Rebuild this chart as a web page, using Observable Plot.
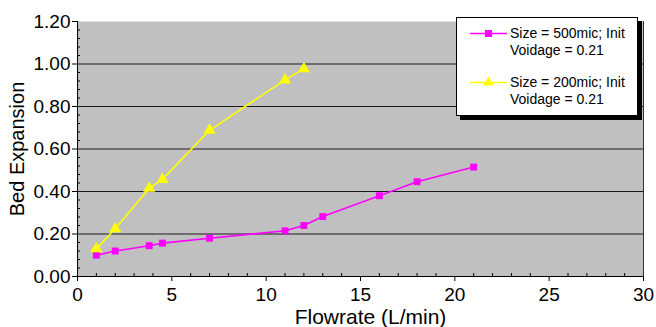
<!DOCTYPE html>
<html><head><meta charset="utf-8">
<script src="https://cdn.jsdelivr.net/npm/d3@7"></script>
<script src="https://cdn.jsdelivr.net/npm/@observablehq/plot@0.6"></script>
<style>
body{margin:0;background:#fff;font-family:"Liberation Sans",Arial,sans-serif}
#wrap{position:relative;width:656px;height:327px}
#legend{position:absolute;left:456px;top:17px;width:182px;height:99px;background:#fff;border:1px solid #000;box-shadow:4px 4px 0 #000;box-sizing:border-box;font-size:14px;color:#000}
.entry{position:absolute;left:0;width:100%;height:35px}
.entry svg{position:absolute;left:13px;top:7px}
.entry .lab{position:absolute;left:53px;top:7px;line-height:17.3px;white-space:pre}
</style></head><body><div id="wrap"></div>
<script>
// Data
const flow500 = [1, 2, 3.8, 4.5, 7, 11, 12, 13, 16, 18, 21];
const exp500  = [0.10, 0.12, 0.145, 0.157, 0.18, 0.215, 0.24, 0.282, 0.38, 0.446, 0.515];
const flow200 = [1, 2, 3.8, 4.5, 7, 11, 12];
const exp200  = [0.13, 0.225, 0.415, 0.457, 0.688, 0.925, 0.978];
const seriesNames = ["Size = 500mic; Init\nVoidage = 0.21", "Size = 200mic; Init\nVoidage = 0.21"];
const seriesColors = ["#ff00ff", "#ffff00"];
const seriesSymbols = ["square", "triangle"];
const xTicks = [0, 5, 10, 15, 20, 25, 30];
const xMinorTicks = [1,2,3,4,6,7,8,9,11,12,13,14,16,17,18,19,21,22,23,24,26,27,28,29];
const yTicks = [0, 0.2, 0.4, 0.6, 0.8, 1.0, 1.2];
const yGrid = [0.2, 0.4, 0.6, 0.8, 1.0];
const yMinorTicks = [0.04,0.08,0.12,0.16,0.24,0.28,0.32,0.36,0.44,0.48,0.52,0.56,0.64,0.68,0.72,0.76,0.84,0.88,0.92,0.96,1.04,1.08,1.12,1.16];
const xLabel = "Flowrate (L/min)";
const yLabel = "Bed Expansion";

const d500 = flow500.map((x, i) => ({x, y: exp500[i]}));
const d200 = flow200.map((x, i) => ({x, y: exp200[i]}));
const datasets = [d500, d200];

const chart = Plot.plot({
  width: 656, height: 327,
  marginLeft: 77, marginRight: 13, marginTop: 21, marginBottom: 51,
  style: {fontFamily: "'Liberation Sans', Arial, sans-serif", color: "#000", background: "#fff"},
  x: {domain: [0, 30]},
  y: {domain: [0, 1.2]},
  marks: [
    Plot.frame({fill: "#c0c0c0", stroke: null}),
    Plot.ruleY(yGrid, {stroke: "#1a1a1a", strokeWidth: 1}),
    Plot.ruleX([30], {stroke: "#333", strokeWidth: 1}),
    Plot.axisY(yMinorTicks, {anchor: "left", tickSize: -3, tickFormat: () => "", label: null, stroke: "#000"}),
    Plot.axisX(xMinorTicks, {anchor: "bottom", tickSize: -3, tickFormat: () => "", label: null, stroke: "#000"}),
    Plot.axisY(yTicks, {anchor: "left", tickSize: 5, tickPadding: 2, tickFormat: d => d.toFixed(2), fontSize: 19,
      label: yLabel, labelAnchor: "center", labelArrow: "none", labelOffset: 68, stroke: "#000"}),
    Plot.axisX(xTicks, {anchor: "bottom", tickSize: 5, tickPadding: 6, tickFormat: d => String(d), fontSize: 19,
      label: xLabel, labelAnchor: "center", labelArrow: "none", labelOffset: 47, stroke: "#000"}),
    Plot.ruleX([0], {stroke: "#000"}),
    Plot.ruleY([0], {stroke: "#000"}),
    ...datasets.flatMap((d, i) => [
      Plot.line(d, {x: "x", y: "y", stroke: seriesColors[i], strokeWidth: 1.6}),
      Plot.dot(d, {x: "x", y: "y", symbol: seriesSymbols[i], r: i === 0 ? 3.9 : 4.5, fill: seriesColors[i], stroke: null})
    ])
  ]
});
chart.querySelectorAll("g[aria-label='y-axis label'] text").forEach(t => t.setAttribute("font-size", "20"));
chart.querySelectorAll("g[aria-label='x-axis label'] text").forEach(t => { t.setAttribute("font-size", "21"); t.setAttribute("dx", "10"); });
document.getElementById("wrap").appendChild(chart);

// Legend overlay
const leg = document.createElement("div");
leg.id = "legend";
seriesNames.forEach((name, i) => {
  const e = document.createElement("div");
  e.className = "entry";
  e.style.top = (i * 49) + "px";
  const sym = seriesSymbols[i] === "square"
    ? `<rect x="15" y="5" width="7" height="7" fill="${seriesColors[i]}"/>`
    : `<path d="M18.5,2.5 L24,11.5 L13,11.5 Z" fill="${seriesColors[i]}"/>`;
  e.innerHTML = `<svg width="37" height="17"><line x1="0" x2="37" y1="8.5" y2="8.5" stroke="${seriesColors[i]}" stroke-width="1.6"/>${sym}</svg><div class="lab"></div>`;
  e.querySelector(".lab").textContent = name;
  leg.appendChild(e);
});
document.getElementById("wrap").appendChild(leg);
</script></body></html>
